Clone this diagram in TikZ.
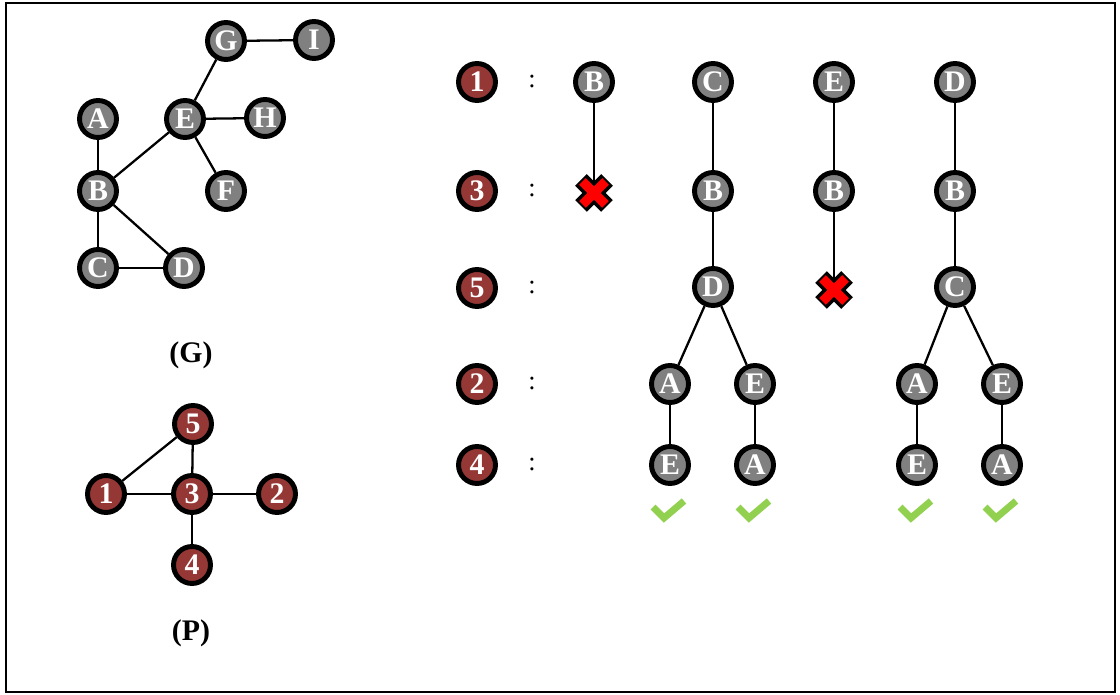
\documentclass[tikz,border=0pt]{standalone}
\usepackage{fontspec}
\setmainfont{Liberation Serif}

\definecolor{nodegray}{RGB}{128,128,128}
\definecolor{nodered}{RGB}{149,55,53}
\definecolor{passgreen}{RGB}{146,208,80}

\begin{document}
\begin{tikzpicture}[
            x=0.02cm, y=-0.02cm,
            vert/.style={
                circle,
                draw=black,
                fill=nodegray,
                line width=2.8pt,
                minimum size=0.74cm,
                inner sep=0pt,
                text=white,
                font=\bfseries\fontsize{17}{17}\selectfont
            },
            qvert/.style={
                vert,
                fill=nodered
            },
            caption/.style={
                font=\bfseries\fontsize{17}{19}\selectfont
            },
            sep/.style={
                font=\fontsize{15}{15}\selectfont
            },
            edge/.style={line width=1.3pt},
            fail/.pic={
                \draw[line width=0.33cm] (-13,-13) -- (13,13) (-13,13) -- (13,-13);
                \draw[red, line width=0.19cm] (-11.5,-11.5) -- (11.5,11.5) (-11.5,11.5) -- (11.5,-11.5);
                \coordinate (-top) at (0,-11);
            },
            pass/.pic={
                \draw[passgreen, line width=3.9pt] (-15,-4) -- (-4,7) -- (16,-10);
            }
        ]

        \useasboundingbox (0,0) rectangle (1120,695);
        \draw[line width=1.2pt] (6,3) rectangle (1115,692);

        % data graph G
        \node[vert] (g) at (226,41) {G};
        \node[vert] (i) at (314,40) {I};
        \node[vert] (a) at (98,119) {A};
        \node[vert] (e) at (185,119) {E};
        \node[vert] (h) at (265,118) {H};
        \node[vert] (b) at (98,191) {B};
        \node[vert] (f) at (226,191) {F};
        \node[vert] (c) at (98,268) {C};
        \node[vert] (d) at (184,268) {D};
        \node[caption] (capg) at (191,355) {(G)};

        \draw[edge] (g) -- (i);
        \draw[edge] (g) -- (e);
        \draw[edge] (e) -- (h);
        \draw[edge] (e) -- (f);
        \draw[edge] (e) -- (b);
        \draw[edge] (a) -- (b);
        \draw[edge] (b) -- (c);
        \draw[edge] (b) -- (d);
        \draw[edge] (c) -- (d);

        % query graph P
        \node[qvert] (p5) at (193,424) {5};
        \node[qvert] (p1) at (106,494) {1};
        \node[qvert] (p3) at (192,494) {3};
        \node[qvert] (p2) at (277,494) {2};
        \node[qvert] (p4) at (192,565) {4};
        \node[caption] (capp) at (191,633) {(P)};

        \draw[edge] (p1) -- (p5);
        \draw[edge] (p5) -- (p3);
        \draw[edge] (p1) -- (p3);
        \draw[edge] (p3) -- (p2);
        \draw[edge] (p3) -- (p4);

        % matching order
        \node[qvert] (r1) at (477,82) {1};
        \node[qvert] (r3) at (477,191) {3};
        \node[qvert] (r5) at (477,288) {5};
        \node[qvert] (r2) at (477,384) {2};
        \node[qvert] (r4) at (477,465) {4};
        \foreach \y [count=\k] in {82,191,288,384,465}
            \node[sep] (s\k) at (532,\y) {:};

        % search trees
        \node[vert] (t1b) at (594,82) {B};
        \pic (t1x) at (594,193) {fail};
        \draw[edge] (t1b) -- (t1x-top);

        \node[vert] (t2c) at (713,82) {C};
        \node[vert] (t2b) at (713,191) {B};
        \node[vert] (t2d) at (713,287) {D};
        \node[vert] (t2a) at (670,384) {A};
        \node[vert] (t2e) at (755,384) {E};
        \node[vert] (t2ae) at (670,465) {E};
        \node[vert] (t2ea) at (755,465) {A};
        \draw[edge] (t2c) -- (t2b);
        \draw[edge] (t2b) -- (t2d);
        \draw[edge] (t2d) -- (t2a);
        \draw[edge] (t2d) -- (t2e);
        \draw[edge] (t2a) -- (t2ae);
        \draw[edge] (t2e) -- (t2ea);
        \pic at (668,511) {pass};
        \pic at (753,511) {pass};

        \node[vert] (t3e) at (834,82) {E};
        \node[vert] (t3b) at (834,191) {B};
        \pic (t3x) at (834,290) {fail};
        \draw[edge] (t3e) -- (t3b);
        \draw[edge] (t3b) -- (t3x-top);

        \node[vert] (t4d) at (955,82) {D};
        \node[vert] (t4b) at (955,191) {B};
        \node[vert] (t4c) at (955,287) {C};
        \node[vert] (t4a) at (917,384) {A};
        \node[vert] (t4e) at (1002,384) {E};
        \node[vert] (t4ae) at (917,465) {E};
        \node[vert] (t4ea) at (1002,465) {A};
        \draw[edge] (t4d) -- (t4b);
        \draw[edge] (t4b) -- (t4c);
        \draw[edge] (t4c) -- (t4a);
        \draw[edge] (t4c) -- (t4e);
        \draw[edge] (t4a) -- (t4ae);
        \draw[edge] (t4e) -- (t4ea);
        \pic at (915,511) {pass};
        \pic at (1000,511) {pass};
    \end{tikzpicture}
\end{document}
